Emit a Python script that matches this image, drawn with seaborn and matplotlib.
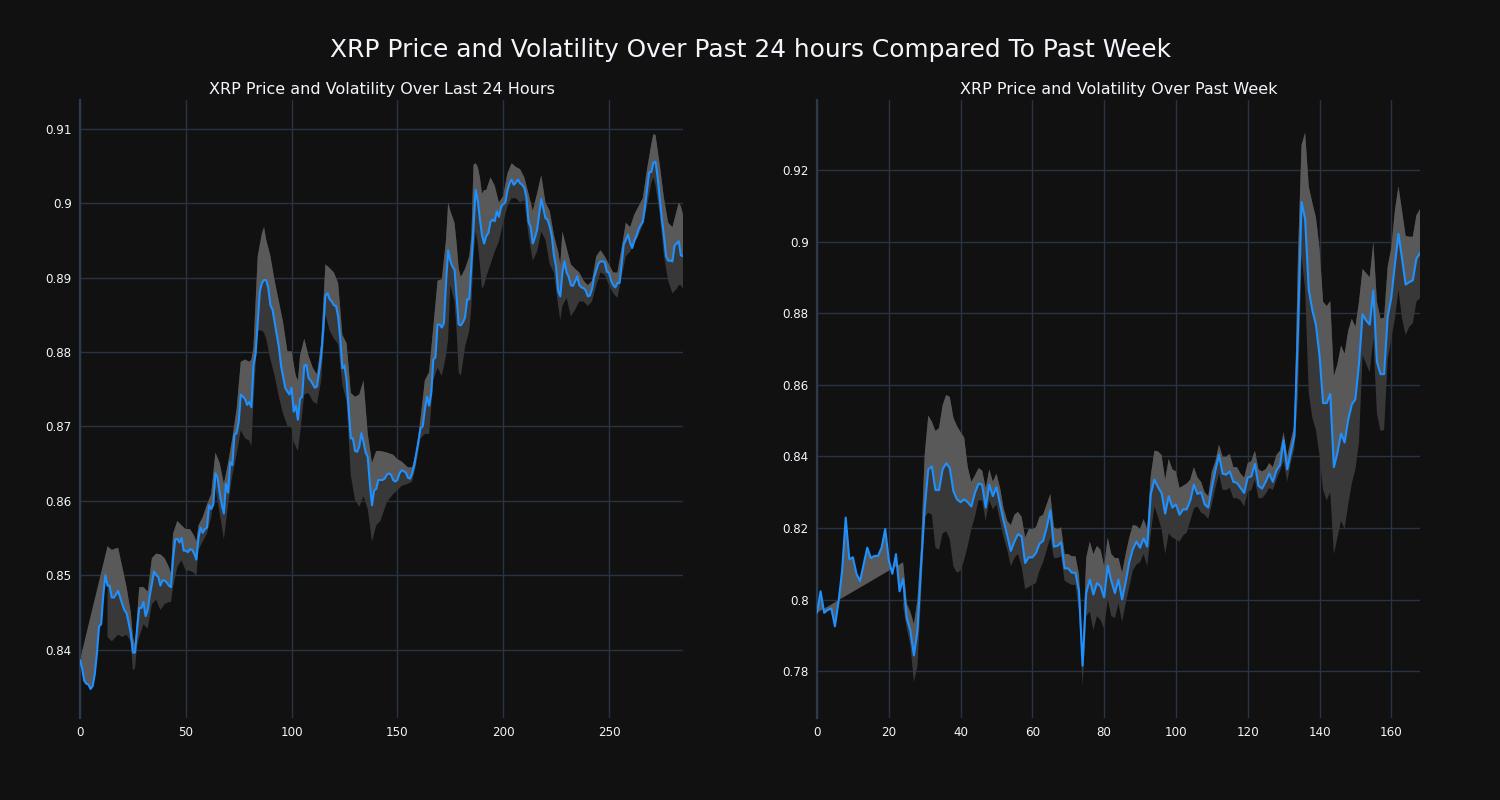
import numpy as np
import matplotlib
matplotlib.use('Agg')
import matplotlib.pyplot as plt
import seaborn as sns
import pandas as pd
from matplotlib.ticker import FuncFormatter, MultipleLocator


# --- last 24 hours (5 min steps) ---
price_24h = [
    0.8386, 0.8375, 0.8358, 0.8354, 0.8353, 0.8347, 0.8351, 0.8367, 0.8395, 0.8431,
    0.8434, 0.8473, 0.8500, 0.8486, 0.8486, 0.8470, 0.8470, 0.8474, 0.8479, 0.8470,
    0.8461, 0.8453, 0.8449, 0.8436, 0.8422, 0.8396, 0.8396, 0.8428, 0.8456, 0.8456,
    0.8464, 0.8445, 0.8453, 0.8473, 0.8489, 0.8505, 0.8500, 0.8498, 0.8486, 0.8493,
    0.8493, 0.8490, 0.8486, 0.8484, 0.8523, 0.8548, 0.8549, 0.8544, 0.8550, 0.8533,
    0.8533, 0.8531, 0.8535, 0.8534, 0.8529, 0.8521, 0.8550, 0.8564, 0.8557, 0.8562,
    0.8564, 0.8594, 0.8589, 0.8595, 0.8637, 0.8631, 0.8611, 0.8595, 0.8583, 0.8623,
    0.8611, 0.8652, 0.8648, 0.8689, 0.8691, 0.8706, 0.8743, 0.8740, 0.8737, 0.8729,
    0.8733, 0.8726, 0.8782, 0.8798, 0.8840, 0.8882, 0.8893, 0.8897, 0.8897, 0.8886,
    0.8863, 0.8857, 0.8840, 0.8823, 0.8807, 0.8782, 0.8767, 0.8752, 0.8747, 0.8743,
    0.8752, 0.8720, 0.8728, 0.8709, 0.8737, 0.8740, 0.8782, 0.8783, 0.8765, 0.8762,
    0.8757, 0.8752, 0.8754, 0.8773, 0.8795, 0.8832, 0.8876, 0.8879, 0.8871, 0.8868,
    0.8863, 0.8862, 0.8848, 0.8818, 0.8778, 0.8782, 0.8762, 0.8723, 0.8684, 0.8684,
    0.8667, 0.8666, 0.8673, 0.8691, 0.8679, 0.8665, 0.8659, 0.8623, 0.8594, 0.8614,
    0.8616, 0.8628, 0.8628, 0.8628, 0.8630, 0.8635, 0.8637, 0.8635, 0.8628, 0.8626,
    0.8628, 0.8637, 0.8641, 0.8640, 0.8638, 0.8631, 0.8630, 0.8637, 0.8648, 0.8665,
    0.8681, 0.8698, 0.8700, 0.8723, 0.8740, 0.8728, 0.8745, 0.8790, 0.8793, 0.8837,
    0.8837, 0.8833, 0.8839, 0.8893, 0.8937, 0.8923, 0.8915, 0.8911, 0.8873, 0.8837,
    0.8836, 0.8840, 0.8847, 0.8871, 0.8871, 0.8918, 0.8968, 0.9018, 0.9004, 0.8979,
    0.8957, 0.8946, 0.8956, 0.8960, 0.8975, 0.8978, 0.8976, 0.8989, 0.8982, 0.8995,
    0.8999, 0.9001, 0.9017, 0.9027, 0.9032, 0.9025, 0.9028, 0.9032, 0.9027, 0.9025,
    0.9021, 0.9008, 0.8975, 0.8968, 0.8946, 0.8954, 0.8964, 0.8985, 0.9006, 0.8993,
    0.8980, 0.8978, 0.8969, 0.8956, 0.8930, 0.8915, 0.8882, 0.8875, 0.8907, 0.8922,
    0.8907, 0.8901, 0.8890, 0.8889, 0.8895, 0.8902, 0.8890, 0.8887, 0.8886, 0.8883,
    0.8875, 0.8876, 0.8885, 0.8901, 0.8910, 0.8919, 0.8922, 0.8922, 0.8921, 0.8908,
    0.8907, 0.8896, 0.8890, 0.8887, 0.8893, 0.8893, 0.8918, 0.8945, 0.8951, 0.8958,
    0.8947, 0.8940, 0.8950, 0.8956, 0.8965, 0.8971, 0.8975, 0.8995, 0.9018, 0.9042,
    0.9042, 0.9055, 0.9056, 0.9035, 0.9007, 0.8979, 0.8956, 0.8929, 0.8923, 0.8923,
    0.8922, 0.8943, 0.8946, 0.8949, 0.8930, 0.8929,
]

band_24h_hours = [
    13, 15, 18, 20, 22, 24, 25, 26, 27, 28, 30, 32, 34, 36, 38, 40, 42, 43, 44, 46,
    48, 50, 52, 54, 55, 56, 58, 60, 62, 64, 66, 68, 70, 72, 74, 76, 78, 80, 81, 82,
    84, 86, 87, 88, 90, 92, 94, 96, 98, 100, 101, 102, 103, 104, 106, 108, 110, 112, 114, 116,
    118, 120, 122, 124, 126, 128, 130, 132, 134, 136, 138, 140, 142, 145, 148, 150, 152, 155, 157, 159,
    161, 163, 165, 167, 169, 171, 173, 174, 175, 177, 178, 179, 180, 182, 184, 185, 186, 187, 188, 189,
    190, 191, 192, 194, 196, 198, 200, 202, 204, 206, 208, 210, 212, 214, 216, 218, 220, 222, 224, 226,
    227, 228, 230, 232, 234, 236, 238, 240, 242, 244, 246, 248, 250, 252, 254, 256, 258, 260, 262, 264,
    266, 268, 270, 271, 272, 274, 276, 278, 280, 282, 283, 284, 285,
]

band_24h_upper = [
    0.8539, 0.8534, 0.8537, 0.8511, 0.8484, 0.8450, 0.8417, 0.8406, 0.8445, 0.8484,
    0.8484, 0.8478, 0.8523, 0.8529, 0.8528, 0.8523, 0.8511, 0.8503, 0.8556, 0.8573,
    0.8567, 0.8562, 0.8562, 0.8553, 0.8545, 0.8567, 0.8578, 0.8595, 0.8609, 0.8665,
    0.8651, 0.8623, 0.8651, 0.8684, 0.8723, 0.8787, 0.8790, 0.8787, 0.8790, 0.8807,
    0.8929, 0.8960, 0.8968, 0.8951, 0.8929, 0.8896, 0.8868, 0.8840, 0.8801, 0.8801,
    0.8784, 0.8768, 0.8762, 0.8795, 0.8818, 0.8795, 0.8779, 0.8770, 0.8812, 0.8918,
    0.8913, 0.8907, 0.8893, 0.8823, 0.8812, 0.8745, 0.8740, 0.8743, 0.8762, 0.8690,
    0.8651, 0.8667, 0.8667, 0.8665, 0.8662, 0.8656, 0.8653, 0.8645, 0.8645, 0.8667,
    0.8712, 0.8762, 0.8773, 0.8834, 0.8896, 0.8898, 0.8951, 0.9001, 0.8990, 0.8974,
    0.8946, 0.8912, 0.8901, 0.8912, 0.8929, 0.8957, 0.9052, 0.9054, 0.9049, 0.9035,
    0.9013, 0.9018, 0.9018, 0.9035, 0.9024, 0.9001, 0.9010, 0.9040, 0.9054, 0.9049,
    0.9046, 0.9035, 0.9013, 0.8990, 0.9013, 0.9038, 0.9001, 0.8990, 0.8957, 0.8935,
    0.8918, 0.8962, 0.8940, 0.8918, 0.8912, 0.8907, 0.8896, 0.8890, 0.8896, 0.8929,
    0.8937, 0.8929, 0.8918, 0.8907, 0.8907, 0.8940, 0.8974, 0.8968, 0.8985, 0.8996,
    0.9007, 0.9046, 0.9079, 0.9093, 0.9092, 0.9052, 0.9007, 0.8974, 0.8968, 0.8990,
    0.9001, 0.8996, 0.8985,
]

band_24h_lower = [
    0.8417, 0.8411, 0.8420, 0.8417, 0.8420, 0.8411, 0.8372, 0.8375, 0.8406, 0.8417,
    0.8434, 0.8428, 0.8461, 0.8467, 0.8453, 0.8461, 0.8464, 0.8464, 0.8484, 0.8511,
    0.8520, 0.8506, 0.8506, 0.8503, 0.8498, 0.8534, 0.8545, 0.8556, 0.8578, 0.8617,
    0.8584, 0.8548, 0.8595, 0.8634, 0.8662, 0.8695, 0.8684, 0.8681, 0.8673, 0.8734,
    0.8829, 0.8829, 0.8826, 0.8818, 0.8790, 0.8768, 0.8740, 0.8717, 0.8701, 0.8698,
    0.8679, 0.8673, 0.8667, 0.8690, 0.8743, 0.8745, 0.8734, 0.8730, 0.8762, 0.8851,
    0.8829, 0.8818, 0.8811, 0.8756, 0.8734, 0.8634, 0.8601, 0.8592, 0.8606, 0.8589,
    0.8545, 0.8567, 0.8573, 0.8598, 0.8609, 0.8614, 0.8620, 0.8623, 0.8626, 0.8651,
    0.8684, 0.8690, 0.8690, 0.8762, 0.8779, 0.8768, 0.8795, 0.8818, 0.8890, 0.8868,
    0.8829, 0.8773, 0.8768, 0.8807, 0.8829, 0.8862, 0.8929, 0.8962, 0.8946, 0.8918,
    0.8885, 0.8890, 0.8901, 0.8918, 0.8935, 0.8949, 0.8974, 0.8996, 0.9007, 0.9007,
    0.9001, 0.9004, 0.8957, 0.8923, 0.8935, 0.8962, 0.8951, 0.8918, 0.8907, 0.8862,
    0.8843, 0.8862, 0.8873, 0.8848, 0.8857, 0.8868, 0.8868, 0.8862, 0.8868, 0.8890,
    0.8907, 0.8904, 0.8890, 0.8879, 0.8873, 0.8901, 0.8929, 0.8935, 0.8946, 0.8957,
    0.8971, 0.8996, 0.9027, 0.9035, 0.9024, 0.8985, 0.8929, 0.8896, 0.8879, 0.8885,
    0.8890, 0.8890, 0.8885,
]

# --- past week (hourly) ---
price_week = [
    0.7963, 0.8023, 0.7963, 0.7971, 0.7975, 0.7925, 0.7994, 0.8081, 0.8229, 0.8113,
    0.8118, 0.8072, 0.8052, 0.8098, 0.8145, 0.8116, 0.8122, 0.8122, 0.8145, 0.8197,
    0.8110, 0.8072, 0.8127, 0.8023, 0.8058, 0.7948, 0.7914, 0.7844, 0.7914, 0.8093,
    0.8254, 0.8364, 0.8372, 0.8306, 0.8306, 0.8364, 0.8381, 0.8367, 0.8303, 0.8280,
    0.8272, 0.8280, 0.8272, 0.8260, 0.8298, 0.8324, 0.8321, 0.8257, 0.8321, 0.8289,
    0.8314, 0.8266, 0.8220, 0.8179, 0.8136, 0.8162, 0.8183, 0.8176, 0.8102, 0.8118,
    0.8118, 0.8130, 0.8156, 0.8164, 0.8202, 0.8249, 0.8148, 0.8150, 0.8160, 0.8087,
    0.8087, 0.8075, 0.8075, 0.8023, 0.7815, 0.8018, 0.8056, 0.8014, 0.8046, 0.8037,
    0.8006, 0.8095, 0.8052, 0.8018, 0.8056, 0.8000, 0.8049, 0.8104, 0.8141, 0.8162,
    0.8145, 0.8171, 0.8148, 0.8295, 0.8335, 0.8314, 0.8298, 0.8240, 0.8289, 0.8257,
    0.8266, 0.8237, 0.8252, 0.8252, 0.8277, 0.8321, 0.8295, 0.8300, 0.8266, 0.8257,
    0.8312, 0.8361, 0.8404, 0.8352, 0.8349, 0.8358, 0.8329, 0.8326, 0.8312, 0.8298,
    0.8341, 0.8344, 0.8379, 0.8318, 0.8310, 0.8329, 0.8352, 0.8329, 0.8361, 0.8376,
    0.8445, 0.8364, 0.8410, 0.8456, 0.8751, 0.9111, 0.9063, 0.8866, 0.8809, 0.8768,
    0.8682, 0.8549, 0.8549, 0.8575, 0.8370, 0.8410, 0.8464, 0.8439, 0.8503, 0.8545,
    0.8560, 0.8658, 0.8797, 0.8780, 0.8768, 0.8864, 0.8664, 0.8630, 0.8630, 0.8791,
    0.8843, 0.8936, 0.9022, 0.8953, 0.8880, 0.8887, 0.8892, 0.8953, 0.8968,
]

band_week_hours = list(range(24, 169))

band_week_upper = [
    0.8104, 0.7989, 0.7966, 0.7931, 0.8000, 0.8150, 0.8404, 0.8514, 0.8497, 0.8471,
    0.8479, 0.8543, 0.8572, 0.8566, 0.8508, 0.8485, 0.8468, 0.8453, 0.8370, 0.8329,
    0.8347, 0.8367, 0.8361, 0.8312, 0.8364, 0.8329, 0.8352, 0.8312, 0.8254, 0.8220,
    0.8208, 0.8237, 0.8245, 0.8231, 0.8173, 0.8197, 0.8197, 0.8202, 0.8231, 0.8237,
    0.8266, 0.8295, 0.8202, 0.8197, 0.8202, 0.8127, 0.8127, 0.8121, 0.8121, 0.8070,
    0.7839, 0.8116, 0.8162, 0.8127, 0.8150, 0.8139, 0.8093, 0.8173, 0.8127, 0.8116,
    0.8116, 0.8075, 0.8127, 0.8173, 0.8208, 0.8206, 0.8197, 0.8225, 0.8197, 0.8347,
    0.8416, 0.8414, 0.8404, 0.8335, 0.8393, 0.8364, 0.8358, 0.8312, 0.8318, 0.8324,
    0.8335, 0.8370, 0.8341, 0.8329, 0.8300, 0.8289, 0.8358, 0.8387, 0.8433, 0.8399,
    0.8399, 0.8407, 0.8370, 0.8370, 0.8352, 0.8341, 0.8381, 0.8387, 0.8416, 0.8364,
    0.8358, 0.8364, 0.8381, 0.8370, 0.8404, 0.8416, 0.8468, 0.8399, 0.8445, 0.8485,
    0.8959, 0.9270, 0.9305, 0.9155, 0.9109, 0.9068, 0.8982, 0.8832, 0.8820, 0.8834,
    0.8624, 0.8658, 0.8710, 0.8687, 0.8751, 0.8785, 0.8762, 0.8832, 0.8924, 0.8912,
    0.8901, 0.8999, 0.8832, 0.8785, 0.8788, 0.8930, 0.8982, 0.9086, 0.9155, 0.9086,
    0.9016, 0.9014, 0.9014, 0.9074, 0.9091,
]

band_week_lower = [
    0.7980, 0.7919, 0.7873, 0.7769, 0.7815, 0.8012, 0.8230, 0.8243, 0.8237, 0.8145,
    0.8139, 0.8185, 0.8191, 0.8168, 0.8093, 0.8075, 0.8081, 0.8110, 0.8150, 0.8197,
    0.8231, 0.8277, 0.8277, 0.8220, 0.8277, 0.8252, 0.8266, 0.8220, 0.8173, 0.8139,
    0.8093, 0.8116, 0.8127, 0.8093, 0.8029, 0.8035, 0.8041, 0.8046, 0.8081, 0.8104,
    0.8139, 0.8173, 0.8116, 0.8116, 0.8121, 0.8052, 0.8046, 0.8041, 0.8041, 0.7966,
    0.7758, 0.7954, 0.7966, 0.7914, 0.7954, 0.7943, 0.7919, 0.8000, 0.7954, 0.7948,
    0.7989, 0.7937, 0.7989, 0.8035, 0.8081, 0.8098, 0.8104, 0.8127, 0.8093, 0.8185,
    0.8260, 0.8231, 0.8197, 0.8127, 0.8185, 0.8173, 0.8168, 0.8162, 0.8179, 0.8187,
    0.8220, 0.8254, 0.8260, 0.8243, 0.8237, 0.8225, 0.8266, 0.8312, 0.8352, 0.8306,
    0.8306, 0.8312, 0.8283, 0.8283, 0.8277, 0.8260, 0.8300, 0.8306, 0.8335, 0.8283,
    0.8283, 0.8295, 0.8312, 0.8306, 0.8335, 0.8358, 0.8387, 0.8329, 0.8381, 0.8422,
    0.8566, 0.8959, 0.8866, 0.8578, 0.8508, 0.8474, 0.8404, 0.8306, 0.8277, 0.8300,
    0.8127, 0.8173, 0.8220, 0.8197, 0.8266, 0.8324, 0.8364, 0.8439, 0.8682, 0.8658,
    0.8635, 0.8728, 0.8520, 0.8471, 0.8474, 0.8670, 0.8728, 0.8785, 0.8866, 0.8785,
    0.8739, 0.8762, 0.8772, 0.8832, 0.8843,
]

assert len(band_24h_hours) == len(band_24h_upper) == len(band_24h_lower)
assert len(band_week_hours) == len(band_week_upper) == len(band_week_lower)

BG = '#111111'
GRID = '#283442'
TEXT = '#f2f5fa'
LINE = '#1e90ff'
BAND_DARK = '#383838'
BAND_LIGHT = '#595959'

sns.set_theme(style='dark', rc={'axes.facecolor': BG, 'figure.facecolor': BG})
plt.rcParams['font.family'] = ['DejaVu Sans']


def draw_panel(ax, price, band_x, upper, lower, title, xlim, ylim, xstep, ystep):
    hours = np.arange(len(price))
    df = pd.DataFrame({'hour': hours, 'price': price})
    band_x = np.asarray(band_x)
    upper = np.asarray(upper)
    lower = np.asarray(lower)

    # whole band (darker), then the part above the price (lighter)
    ax.fill(np.r_[band_x, band_x[::-1]], np.r_[lower, upper[::-1]],
            color=BAND_DARK, lw=0, zorder=1)
    ax.fill(np.r_[band_x, hours[::-1]], np.r_[upper, np.asarray(price)[::-1]],
            color=BAND_LIGHT, lw=0, zorder=2)
    sns.lineplot(data=df, x='hour', y='price', ax=ax, color=LINE, lw=1.5, zorder=3)

    ax.set_xlim(*xlim)
    ax.set_ylim(*ylim)
    ax.xaxis.set_major_locator(MultipleLocator(xstep))
    ax.yaxis.set_major_locator(MultipleLocator(ystep))
    ax.yaxis.set_major_formatter(FuncFormatter(lambda v, p: f'{v:g}'))
    ax.set_facecolor(BG)
    ax.grid(True, color=GRID, lw=1, zorder=0)
    ax.set_axisbelow(True)
    for side in ['top', 'right', 'bottom']:
        ax.spines[side].set_visible(False)
    ax.spines['left'].set_color('#2c3a4a')
    ax.spines['left'].set_linewidth(1.6)
    ax.tick_params(length=0, labelsize=8.6, colors=TEXT, pad=6)
    ax.set_xlabel('')
    ax.set_ylabel('')
    ax.set_title(title, color=TEXT, fontsize=11.5, pad=4)


fig = plt.figure(figsize=(15, 8), dpi=100)
ax1 = fig.add_axes([80 / 1500, 82 / 800, 603 / 1500, 618 / 800])
ax2 = fig.add_axes([817 / 1500, 82 / 800, 603 / 1500, 618 / 800])

draw_panel(ax1, price_24h, band_24h_hours, band_24h_upper, band_24h_lower,
           'XRP Price and Volatility Over Last 24 Hours',
           (0, 285), (0.8308, 0.9139), 50, 0.01)
draw_panel(ax2, price_week, band_week_hours, band_week_upper, band_week_lower,
           'XRP Price and Volatility Over Past Week',
           (0, 168), (0.7669, 0.9396), 20, 0.02)

fig.text(0.5, 1 - 50 / 800, 'XRP Price and Volatility Over Past 24 hours Compared To Past Week',
         ha='center', va='center', color=TEXT, fontsize=17.9)

fig.savefig('out.png', dpi=100, facecolor=BG)
